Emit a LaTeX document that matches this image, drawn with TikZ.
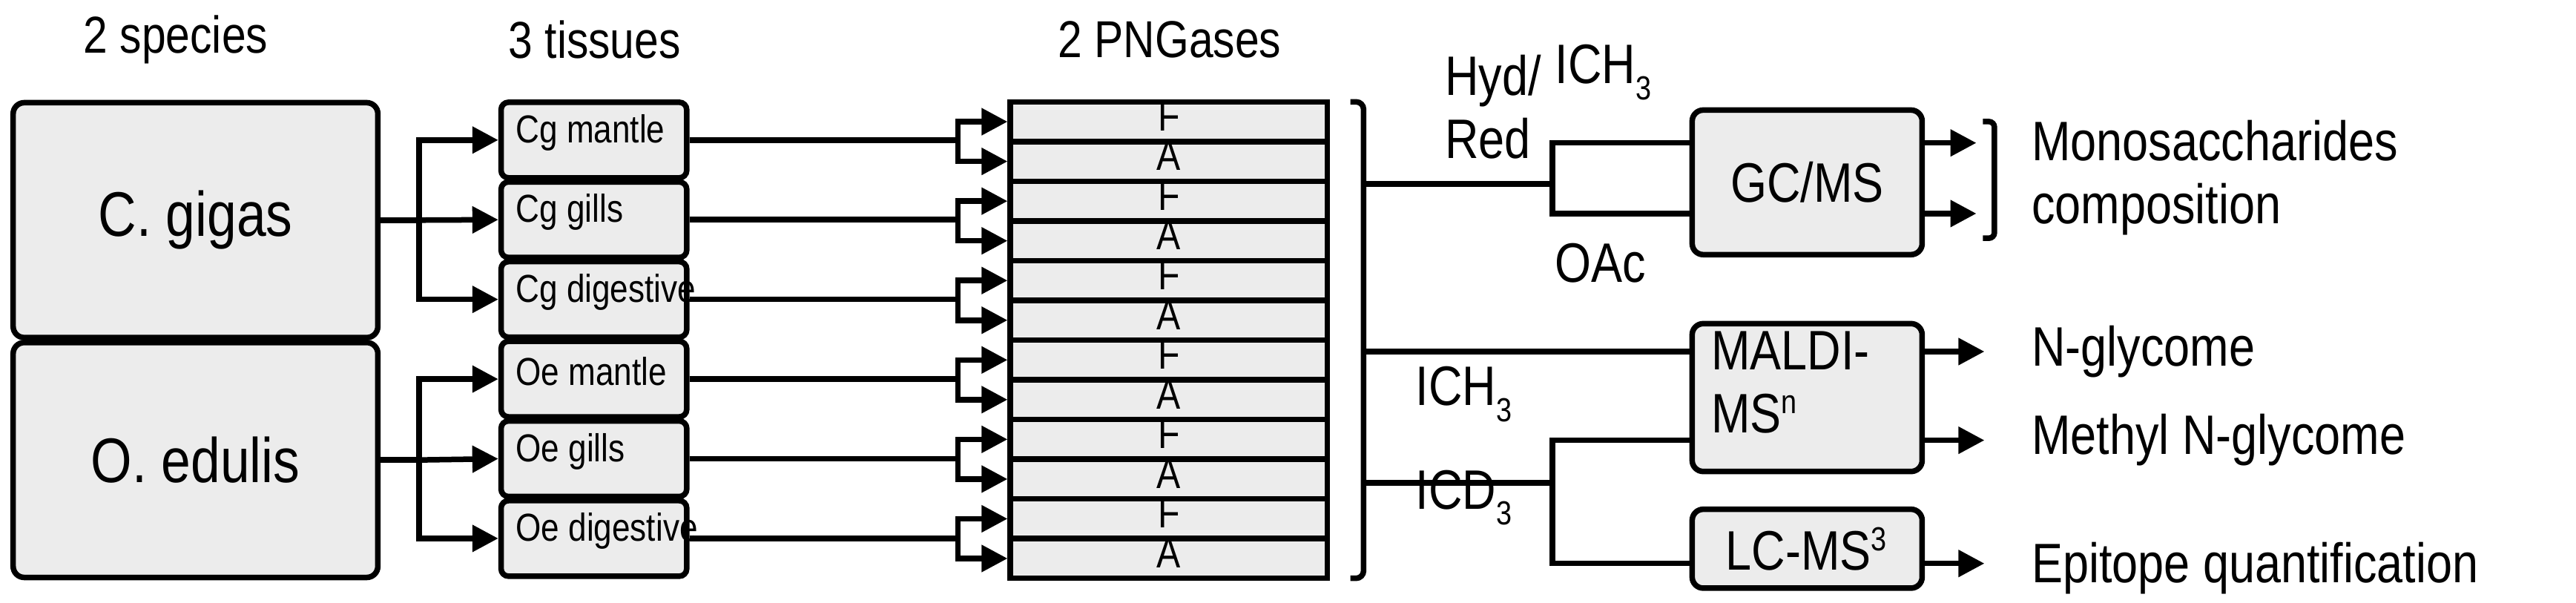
\documentclass[tikz,border=0pt]{standalone}
\usepackage{fontspec}
\setmainfont{Liberation Sans}[FakeStretch=0.84]
\usetikzlibrary{arrows.meta}
\newcommand{\lowsub}[1]{\raisebox{-0.55ex}{\fontsize{9}{10}\selectfont #1}}
\begin{document}
\begin{tikzpicture}[x=0.443pt,y=-0.443pt,
  line width=1.5pt,
  box/.style={draw,fill=gray!15,rounded corners=3pt,inner sep=0pt},
  arr/.style={-{Triangle[length=7pt,width=7pt]}},
  lbl/.style={inner sep=0pt,anchor=west},
  big/.style={font=\fontsize{15}{17}\selectfont},
  hdr/.style={font=\fontsize{14}{16}\selectfont,inner sep=0pt}]
\useasboundingbox (0,0) rectangle (1568,367);
% headers
\node[hdr] (h1) at (107,24) {2 species};
\node[hdr] (h2) at (362,24) {3 tissues};
\node[hdr] (h3) at (712,24) {2 PNGases};
% species
\node[box,minimum width=222*0.443pt,minimum height=143*0.443pt,font=\fontsize{17}{19}\selectfont] (cg) at (119,134) {C. gigas};
\node[box,minimum width=222*0.443pt,minimum height=143*0.443pt,font=\fontsize{17}{19}\selectfont] (oe) at (119,280) {O. edulis};
% tissues
\foreach \n/\t [count=\i] in {t1/Cg mantle,t2/Cg gills,t3/Cg digestive,t4/Oe mantle,t5/Oe gills,t6/Oe digestive}{
  \node[box,rounded corners=2pt,minimum width=113*0.443pt,minimum height=46*0.443pt] (\n) at (361.5,{61+24.25*(2*\i-1)}) {};
  \node[lbl,font=\fontsize{10.5}{12}\selectfont] (\n l) at ([xshift=4pt,yshift=2pt]\n.west) {\t};
}
% PNGase rows
\foreach \i in {1,...,12}{
  \pgfmathsetmacro{\yy}{62+24.17*(\i-0.5)}
  \node[draw,fill=gray!15,minimum width=193*0.443pt,minimum height=24.17*0.443pt,inner sep=0pt] (p\i) at (711.5,\yy) {};
}
\foreach \i in {1,...,12}{
  \pgfmathtruncatemacro{\odd}{mod(\i,2)}
  \ifnum\odd=1 \node[inner sep=0pt,font=\fontsize{11.5}{12}\selectfont] (pl\i) at ([yshift=1.5pt]p\i.center) {F};
  \else \node[inner sep=0pt,font=\fontsize{11.5}{12}\selectfont] (pl\i) at ([yshift=1.5pt]p\i.center) {A};\fi
}
% species -> tissues
\coordinate (s1) at (255,134);
\coordinate (s2) at (255,280);
\draw (cg.east) -- (s1);
\draw[arr] (s1) |- (t1.west);
\draw[arr] (s1) -- (t2.west);
\draw[arr] (s1) |- (t3.west);
\draw (oe.east) -- (s2);
\draw[arr] (s2) |- (t4.west);
\draw[arr] (s2) -- (t5.west);
\draw[arr] (s2) |- (t6.west);
% tissues -> rows
\foreach \i in {1,...,6}{
  \pgfmathtruncatemacro{\a}{2*\i-1}
  \pgfmathtruncatemacro{\b}{2*\i}
  \coordinate (k\i) at (t\i.east -| 583,0);
  \draw (t\i.east) -- (k\i);
  \draw[arr] (k\i) |- (p\a.west);
  \draw[arr] (k\i) |- (p\b.west);
}
% big bracket
\coordinate (b1) at (822,62);
\coordinate (b2) at (822,352);
\draw[rounded corners=2pt] (b1) -- (830,62) -- (830,352) -- (b2);
% right boxes
\node[box,minimum width=140*0.443pt,minimum height=88*0.443pt,big] (gc) at (1100,111) {GC/MS};
\node[box,minimum width=140*0.443pt,minimum height=90*0.443pt] (ma) at (1100,242) {};
\node[lbl,big,align=left,anchor=north west] (mal) at (1040,200) {MALDI-\\MS\textsuperscript{\fontsize{9}{10}\selectfont n}};
\node[box,minimum width=140*0.443pt,minimum height=48*0.443pt,big] (lc) at (1100,334) {LC-MS\textsuperscript{\fontsize{9}{10}\selectfont 3}};
% branches
\coordinate (c1) at (830,112);
\coordinate (j1) at (945,112);
\coordinate (c2) at (830,214);
\coordinate (c3) at (830,294);
\coordinate (j3) at (945,294);
\draw (c1) -- (j1);
\draw (j1) |- (gc.west |- 0,87);
\draw (j1) |- (gc.west |- 0,130);
\draw (c2) -- (ma.west |- 0,214);
\draw (c3) -- (j3);
\draw (j3) |- (ma.west |- 0,268);
\draw (j3) |- (lc.west |- 0,343);
% labels
\node[lbl,big,align=left,anchor=north west] (hr) at (878,32) {Hyd/\\Red};
\node[lbl,big] (ich1) at (945,44) {ICH\lowsub{3}};
\node[lbl,big] (oac) at (945,160) {OAc};
\node[lbl,big] (ich2) at (860,240) {ICH\lowsub{3}};
\node[lbl,big] (icd) at (860,303) {ICD\lowsub{3}};
% outputs
\coordinate (o1) at (1203,87);
\coordinate (o2) at (1203,130);
\draw[arr] (gc.east |- o1) -- (o1);
\draw[arr] (gc.east |- o2) -- (o2);
\coordinate (q1) at (1207,74);
\coordinate (q2) at (1207,145);
\draw[rounded corners=1.5pt] (q1) -- (1214,74) -- (1214,145) -- (q2);
\node[lbl,big,align=left] (mono) at (1235,108) {Monosaccharides\\composition};
\node[lbl,big] (ng) at (1235,214) {N-glycome};
\node[lbl,big] (mng) at (1235,268) {Methyl N-glycome};
\node[lbl,big] (ep) at (1235,346) {Epitope quantification};
\draw[arr] (ma.east |- 0,214) -- ([xshift=-12pt]ng.west);
\draw[arr] (ma.east |- 0,268) -- ([xshift=-12pt]mng.west);
\draw[arr] (lc.east |- 0,343) -- ([xshift=-12pt]ep.west |- 0,343);
\end{tikzpicture}
\end{document}
